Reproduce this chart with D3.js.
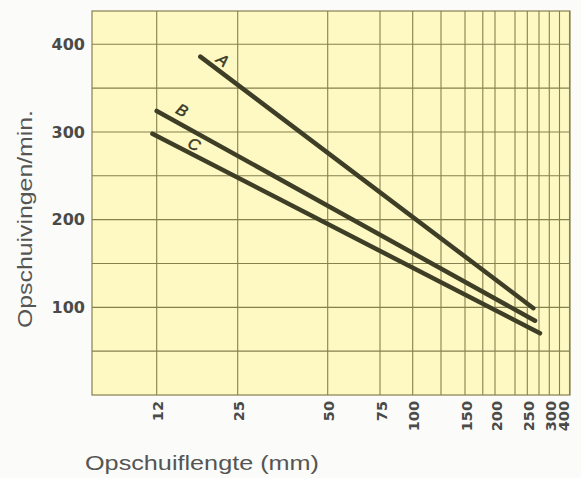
<!DOCTYPE html>
<html>
<head>
<meta charset="utf-8">
<script src="https://cdn.jsdelivr.net/npm/d3@7"></script>
<style>
  body { margin: 0; background: #fbfbf9; }
  svg { display: block; }
</style>
</head>
<body>
<script>
// grid values on the (hand drawn, log-like) stroke length axis
const xGrid = [12, 25, 50, 75, 100, 125, 150, 175, 200, 225, 250, 275, 300, 350, 400];
const xTickLabels = [12, 25, 50, 75, 100, 150, 200, 250, 300, 400];
const yGrid = [50, 100, 150, 200, 250, 300, 350, 400];
const yTickLabels = [100, 200, 300, 400];

const series = ["A", "B", "C"];
const lengthStart = [19, 12, 11.6];
const lengthEnd = [263, 266.5, 277.4];
const strokesStart = [386, 324, 298];
const strokesEnd = [99, 84.7, 70.4];

const width = 581, height = 478;
const margin = {left: 92, top: 11};
const plotW = 478, plotH = 384;

// where each grid value sits across the plot (the printed axis is not a clean log scale)
const xMin = 6;
const xStops = [0, 64.7, 145.7, 235.7, 288, 320.7, 349, 373, 390.8, 403, 423, 435.3, 447, 457.3, 467.5, 477.5];

const x = d3.scaleLinear()
            .domain([xMin].concat(xGrid))
            .range(xStops);
const y = d3.scaleLinear()
            .domain([0, 438])
            .range([plotH, 0]);

const svg = d3.select("body").append("svg")
              .attr("width", width)
              .attr("height", height);

const chartGroup = svg.append("g")
                      .attr("transform", "translate(" + margin.left + "," + margin.top + ")");

chartGroup.append("rect")
          .attr("width", plotW).attr("height", plotH)
          .attr("fill", "#fef8c3");

const gridColor = "#85814e";

chartGroup.selectAll(".vgrid").data(xGrid).enter().append("line")
          .attr("class", "vgrid")
          .attr("x1", d => x(d)).attr("x2", d => x(d))
          .attr("y1", 0).attr("y2", plotH)
          .attr("stroke", gridColor).attr("stroke-width", 1.1);

chartGroup.selectAll(".hgrid").data(yGrid).enter().append("line")
          .attr("class", "hgrid")
          .attr("x1", 0).attr("x2", plotW)
          .attr("y1", d => y(d)).attr("y2", d => y(d))
          .attr("stroke", gridColor).attr("stroke-width", 1.1);

chartGroup.append("rect")
          .attr("width", plotW).attr("height", plotH)
          .attr("fill", "none")
          .attr("stroke", gridColor).attr("stroke-width", 1.2);

// data lines
const lines = series.map((s, i) => ({
  name: s,
  pts: [[lengthStart[i], strokesStart[i]], [lengthEnd[i], strokesEnd[i]]]
}));

const line = d3.line()
               .x(d => x(d[0]))
               .y(d => y(d[1]));

chartGroup.selectAll(".serie").data(lines).enter().append("path")
          .attr("class", "serie")
          .attr("d", d => line(d.pts))
          .attr("fill", "none")
          .attr("stroke", "#3e3e27")
          .attr("stroke-width", 4.5)
          .attr("stroke-linecap", "round");

// series letters, sitting just above the start of each line
const labelAlong = [20, 22, 42];
const labelAbove = [11, 13, 10];

chartGroup.selectAll(".serie-label").data(lines).enter().append("text")
          .attr("class", "serie-label")
          .attr("transform", (d, i) => {
            const x0 = x(d.pts[0][0]), y0 = y(d.pts[0][1]);
            const x1 = x(d.pts[1][0]), y1 = y(d.pts[1][1]);
            const len = Math.hypot(x1 - x0, y1 - y0);
            const ux = (x1 - x0) / len, uy = (y1 - y0) / len;
            const px = x0 + ux * labelAlong[i] + uy * labelAbove[i];
            const py = y0 + uy * labelAlong[i] - ux * labelAbove[i];
            const ang = Math.atan2(y1 - y0, x1 - x0) * 180 / Math.PI;
            return "translate(" + px + "," + py + ") rotate(" + ang + ")";
          })
          .attr("text-anchor", "middle")
          .attr("dy", "0.35em")
          .attr("font-family", "'Liberation Sans', Arial, sans-serif")
          .attr("font-style", "italic")
          .attr("font-size", 16)
          .attr("fill", "#3a3a28")
          .attr("stroke", "#3a3a28")
          .attr("stroke-width", 0.5)
          .text(d => d.name);

// y tick labels
chartGroup.selectAll(".ytick").data(yTickLabels).enter().append("text")
          .attr("class", "ytick")
          .attr("x", -7)
          .attr("y", d => y(d))
          .attr("dy", "0.36em")
          .attr("text-anchor", "end")
          .attr("font-family", "'DejaVu Sans', sans-serif")
          .attr("font-weight", "bold")
          .attr("font-size", 16)
          .attr("fill", "#4a4a48")
          .text(d => d);

// x tick labels, rotated
chartGroup.selectAll(".xtick").data(xTickLabels).enter().append("text")
          .attr("class", "xtick")
          .attr("transform", (d, i) => {
            const shift = i === xTickLabels.length - 1 ? -6 : 1.5;
            return "translate(" + (x(d) + shift) + "," + (plotH + 6) + ") rotate(-90)";
          })
          .attr("dy", "0.36em")
          .attr("text-anchor", "end")
          .attr("font-family", "'DejaVu Sans', sans-serif")
          .attr("font-weight", "bold")
          .attr("font-size", 14.5)
          .attr("fill", "#4a4a48")
          .text(d => d);

// axis titles
svg.append("text")
   .attr("x", 85).attr("y", 469.5)
   .attr("font-family", "'Liberation Sans', Arial, sans-serif")
   .attr("font-size", 19.5)
   .attr("fill", "#555553")
   .attr("textLength", 234)
   .attr("lengthAdjust", "spacingAndGlyphs")
   .text("Opschuiflengte (mm)");

svg.append("text")
   .attr("transform", "translate(32,328) rotate(-90)")
   .attr("font-family", "'Liberation Sans', Arial, sans-serif")
   .attr("font-size", 19.5)
   .attr("fill", "#555553")
   .attr("textLength", 218)
   .attr("lengthAdjust", "spacingAndGlyphs")
   .text("Opschuivingen/min.");
</script>
</body>
</html>
